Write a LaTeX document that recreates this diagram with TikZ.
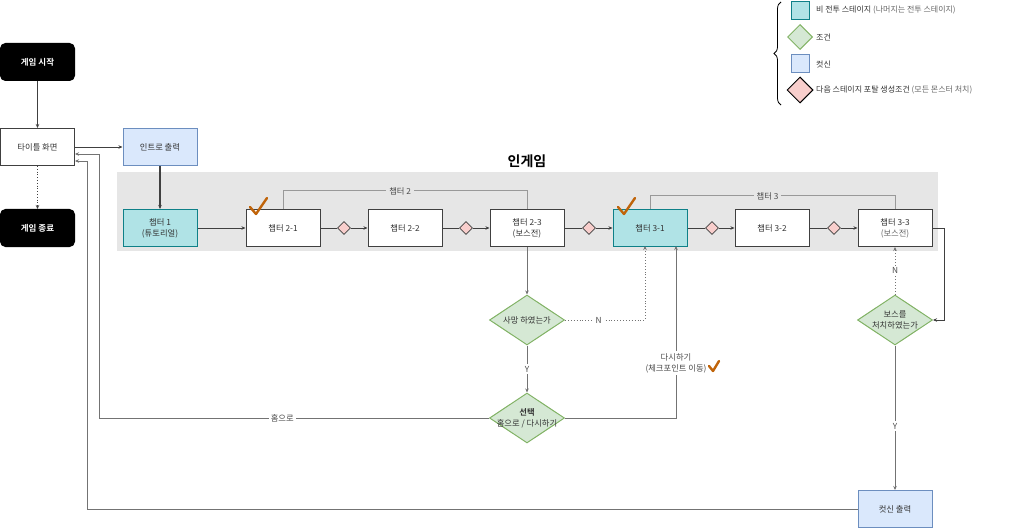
\documentclass[tikz,border=0pt]{standalone}
\usepackage{fontspec}
\setmainfont{Noto Sans CJK KR}[BoldFont={Noto Sans CJK KR Bold}]
\usetikzlibrary{shapes.geometric,arrows.meta,decorations.pathreplacing}
\definecolor{tealf}{HTML}{B0E3E6}
\definecolor{teald}{HTML}{0E8088}
\definecolor{cutf}{HTML}{DAE8FC}
\definecolor{cutd}{HTML}{6C8EBF}
\definecolor{condf}{HTML}{D5E8D4}
\definecolor{condd}{HTML}{82B366}
\definecolor{gatef}{HTML}{F8CECC}
\definecolor{bandc}{HTML}{E6E6E6}
\definecolor{chk}{HTML}{C0640A}
\definecolor{txt}{HTML}{333333}
\begin{document}
\begin{tikzpicture}[x=1pt,y=-1pt,
  every node/.style={font=\fontsize{8.3}{11}\selectfont, text=txt},
  box/.style={draw=black!75, line width=1pt, fill=white, minimum width=74pt, minimum height=37pt, align=center, inner sep=0pt},
  tealbox/.style={box, fill=tealf, draw=teald},
  cutbox/.style={box, fill=cutf, draw=cutd},
  term/.style={box, fill=black, draw=black, rounded corners=5pt, text=white, font=\fontsize{8.5}{11}\selectfont\bfseries},
  cond/.style={diamond, draw=condd, fill=condf, line width=1pt, minimum width=75pt, minimum height=50pt, inner sep=0pt},
  ctext/.style={align=center, inner sep=0pt},
  gate/.style={diamond, draw=black!75, fill=gatef, line width=0.8pt, minimum width=13pt, minimum height=13pt, inner sep=0pt},
  arr/.style={draw=black!75, line width=0.8pt, -{Stealth[length=4pt,width=3.5pt]}},
  ln/.style={draw=black!75, line width=0.8pt},
  garr/.style={draw=black!55, line width=0.9pt, -{Stealth[length=4pt,width=3.5pt]}},
  brk/.style={draw=black!40, line width=1pt},
  lbl/.style={fill=white, inner sep=2pt, text=black!70, align=center},
  legtxt/.style={anchor=west, inner sep=0pt, font=\fontsize{8}{10}\selectfont},
  check/.style={draw=chk, line width=2.4pt, line cap=round, line join=round}
]
\useasboundingbox (0,0) rectangle (1024,529);
% band
\fill[bandc] (117,172) rectangle (938,251);
\node[font=\fontsize{14}{16}\selectfont\bfseries, text=black] (ingame) at (527,161) {인게임};
% left column
\node[term] (start) at (37.5,62) {게임 시작};
\node[box] (title) at (37.5,147) {타이틀 화면};
\node[term] (end) at (37.5,228) {게임 종료};
\node[cutbox] (intro) at (160,147) {인트로 출력};
% chapters
\node[tealbox] (c1) at (160,228) {챕터 1\\(튜토리얼)};
\node[box] (c21) at (283,228) {챕터 2-1};
\node[gate] (g1) at (344,228) {};
\node[box] (c22) at (405,228) {챕터 2-2};
\node[gate] (g2) at (466,228) {};
\node[box] (c23) at (527,228) {챕터 2-3\\(보스전)};
\node[gate] (g3) at (589,228) {};
\node[tealbox] (c31) at (650,228) {챕터 3-1};
\node[gate] (g4) at (712,228) {};
\node[box] (c32) at (772,228) {챕터 3-2};
\node[gate] (g5) at (834,228) {};
\node[box] (c33) at (895,228) {챕터 3-3\\{\color{black!60}(보스전)}};
% conditions
\node[cond] (dead) at (527,320) {};
\node[ctext] (deadt) at (dead) {사망 하였는가};
\node[cond] (choose) at (527,418) {};
\node[ctext] (chooset) at (choose) {\textbf{선택}\\홈으로 / 다시하기};
\node[cond] (boss) at (895,320) {};
\node[ctext] (bosst) at (boss) {보스를\\처치하였는가};
\node[cutbox] (cs) at (895,509) {컷신 출력};
% coordinates
\coordinate (n31) at (645,246);
\coordinate (r31) at (676,246);
\coordinate (h1) at (99,154);
\coordinate (h2) at (87,161);
% connectors
\draw[arr] (start) -- (title);
\draw[arr, dotted] (title) -- (end);
\draw[arr] (title) -- (intro);
\draw[arr, line width=1.3pt] (intro) -- (c1);
\draw[arr] (c1) -- (c21);
\draw[ln] (c21) -- (g1); \draw[arr] (g1) -- (c22);
\draw[ln] (c22) -- (g2); \draw[arr] (g2) -- (c23);
\draw[ln] (c23) -- (g3); \draw[arr] (g3) -- (c31);
\draw[ln] (c31) -- (g4); \draw[arr] (g4) -- (c32);
\draw[ln] (c32) -- (g5); \draw[arr] (g5) -- (c33);
\draw[brk] (c21.north) -- ++(0,-18) -| node[pos=0.24, fill=bandc, inner sep=3pt, text=black!70] {챕터 2} (c23.north);
\draw[brk] (c31.north) -- ++(0,-13) -| node[pos=0.24, fill=bandc, inner sep=3pt, text=black!70] {챕터 3} (c33.north);
\draw[garr] (c23) -- (dead);
\draw[garr, dotted] (dead.east) -| node[lbl, pos=0.21] {N} (n31);
\draw[garr] (dead) -- node[lbl] {Y} (choose);
\draw[garr] (choose.east) -| node[lbl, pos=0.66] {다시하기\\(체크포인트 이동)} (r31);
\draw[garr] (choose.west) -| node[lbl, pos=0.265] {홈으로} (h1) -- (title.east |- h1);
\draw[garr] (cs.west) -| (h2) -- (title.east |- h2);
\draw[arr] (c33.east) -- ++(12,0) |- (boss.east);
\draw[garr, dotted] (boss) -- node[lbl] {N} (c33);
\draw[garr] (boss) -- node[lbl, pos=0.56] {Y} (cs);
% checks
\draw[check] (250,207) -- (256,214) -- (267,198);
\draw[check] (618,207) -- (624,214) -- (635,198);
\draw[check] (709,366) -- (713,371) -- (719,361);
% legend
\draw[line width=0.8pt, decorate, decoration={brace, amplitude=7pt}] (781,105) -- (781,2);
\node[tealbox, minimum width=18pt, minimum height=18pt] (L1) at (800,11) {};
\node[cond, minimum width=25pt, minimum height=25pt] (L2) at (800,37) {};
\node[cutbox, minimum width=18pt, minimum height=18pt] (L3) at (800,64) {};
\node[gate, draw=black, line width=1pt, minimum width=26pt, minimum height=26pt] (L4) at (800,90) {};
\node[legtxt] (T1) at (816,10) {비 전투 스테이지 {\color{black!60}(나머지는 전투 스테이지)}};
\node[legtxt] (T2) at (816,37) {조건};
\node[legtxt] (T3) at (816,64) {컷신};
\node[legtxt] (T4) at (816,90) {다음 스테이지 포탈 생성조건 {\color{black!60}(모든 몬스터 처치)}};
\end{tikzpicture}
\end{document}
